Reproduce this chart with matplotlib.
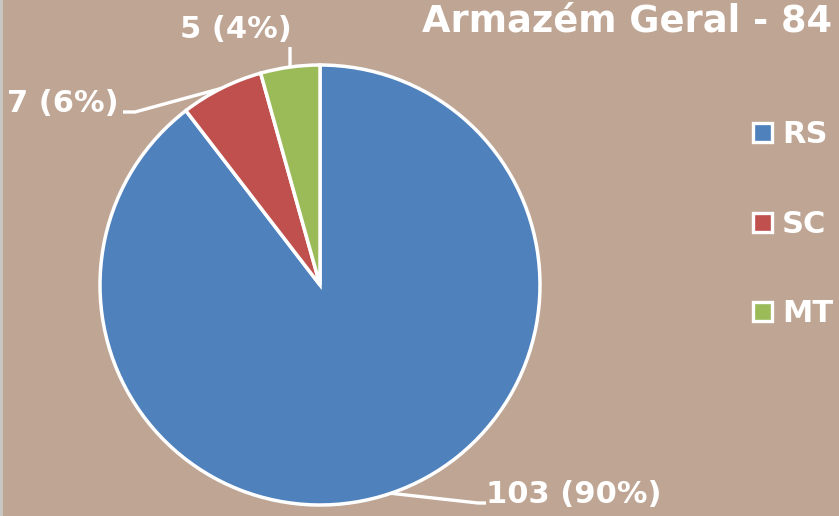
import matplotlib
matplotlib.use('Agg')
import matplotlib.pyplot as plt
import numpy as np
from matplotlib.patches import Rectangle

categories = ['RS', 'SC', 'MT']
values = [103, 7, 5]
colors = ['#4F81BD', '#C0504D', '#9BBB59']
title = 'Armazém Geral - 84'

W, H = 839, 516
BG = '#BFA593'
plt.rcParams['font.family'] = ['DejaVu Sans']

fig = plt.figure(figsize=(W / 100, H / 100), dpi=100)
fig.patch.set_facecolor(BG)
ax = fig.add_axes([0, 0, 1, 1])
ax.set_facecolor(BG)

def Y(y):
    return H - y

cx, cy, r = 320, Y(285), 220
wedges, _ = ax.pie(values, colors=colors, startangle=90, counterclock=False,
                   center=(cx, cy), radius=r, frame=False,
                   wedgeprops=dict(edgecolor='white', linewidth=2.5))
ax.set_xlim(0, W)
ax.set_ylim(0, H)
ax.set_aspect('equal')
ax.set_axis_off()

total = sum(values)
# label anchor (center x, baseline y) and leader paths (px, top-down)
label_pos = [(574, 503), (63, 112), (236, 38)]
leader_pts = [[(478, 503), (486, 503)],
              [(135, 112), (123, 112)],
              [(290, 47)]]
for w, v, (lx, ly), pts in zip(wedges, values, label_pos, leader_pts):
    th = np.deg2rad((w.theta1 + w.theta2) / 2)
    px, py = cx + r * np.cos(th), cy + r * np.sin(th)
    xs = [px] + [p[0] for p in pts]
    ys = [py] + [Y(p[1]) for p in pts]
    ax.plot(xs, ys, color='white', lw=2.4, solid_capstyle='butt', zorder=3)
    pct = round(v / total * 100)
    ax.text(lx, Y(ly), f'{v} ({pct}%)', ha='center', va='baseline',
            fontsize=22, fontweight='bold', color='white', zorder=4)

# title
ax.text(422, Y(31), title, ha='left', va='baseline', fontsize=26.5,
        fontweight='bold', color='white')

# legend
leg_y = [143, 233, 322]
for cat, col, by in zip(categories, colors, leg_y):
    ax.add_patch(Rectangle((753, Y(by) + 1), 19, 19, facecolor=col,
                           edgecolor='white', lw=2.4, zorder=4))
    ax.text(782, Y(by), cat, ha='left', va='baseline', fontsize=22,
            fontweight='bold', color='white')

# thin grey left border
ax.add_patch(Rectangle((0, 0), 2.5, H, facecolor='#C8C6C2', edgecolor='none', zorder=5))

fig.savefig('out.png', dpi=100, facecolor=BG)
